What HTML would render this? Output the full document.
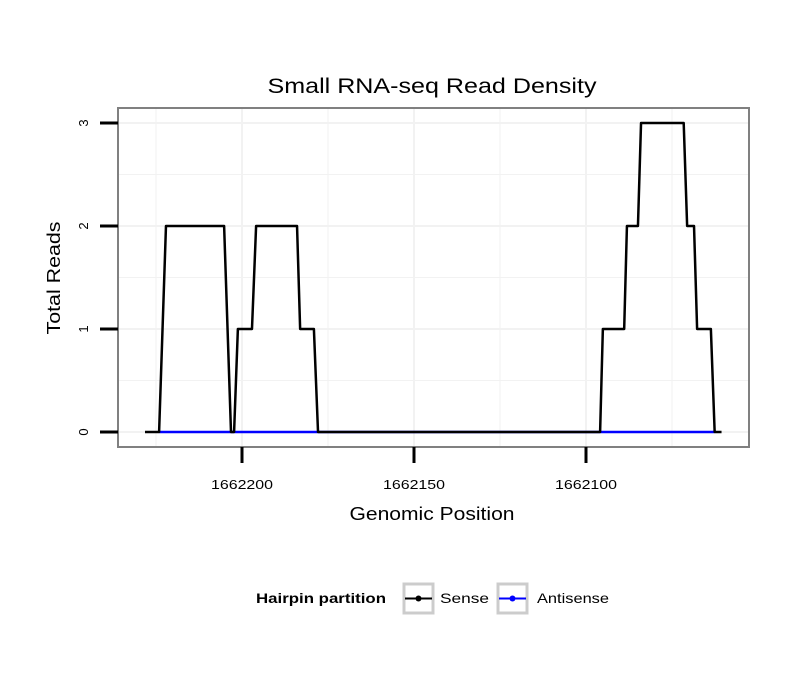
<!DOCTYPE html>
<html><head><meta charset="utf-8"><style>
body{margin:0;background:#fff;font-family:"Liberation Sans",sans-serif}
</style></head><body>
<svg width="810" height="690" xmlns="http://www.w3.org/2000/svg" font-family="Liberation Sans, sans-serif">
<rect x="0" y="0" width="810" height="690" fill="#fff"/>
<text x="432" y="93" font-size="21" text-anchor="middle" textLength="329" lengthAdjust="spacingAndGlyphs">Small RNA-seq Read Density</text>
<g id="grid"></g>
<g id="series"></g>
<rect x="118" y="108" width="631" height="339" fill="none" stroke="#808080" stroke-width="2"/>
<g id="axes"></g>
<text x="432" y="520" font-size="18" text-anchor="middle" textLength="165" lengthAdjust="spacingAndGlyphs">Genomic Position</text>
<text transform="translate(60,278) rotate(-90)" font-size="18" text-anchor="middle" textLength="113" lengthAdjust="spacingAndGlyphs">Total Reads</text>
<g>
<text x="256" y="603" font-size="14" font-weight="bold" textLength="130" lengthAdjust="spacingAndGlyphs">Hairpin partition</text>
<g>
<rect x="404" y="584" width="29" height="29" fill="#fff" stroke="#cccccc" stroke-width="3"/>
<line x1="405" y1="598.5" x2="432" y2="598.5" stroke="#000" stroke-width="2"/>
<circle cx="418.5" cy="598.5" r="3" fill="#000"/>
<text x="440" y="603" font-size="14" textLength="49" lengthAdjust="spacingAndGlyphs">Sense</text></g>
<g>
<rect x="498" y="584" width="29" height="29" fill="#fff" stroke="#cccccc" stroke-width="3"/>
<line x1="499" y1="598.5" x2="526" y2="598.5" stroke="#0000ff" stroke-width="2"/>
<circle cx="512.5" cy="598.5" r="3" fill="#0000ff"/>
<text x="537" y="603" font-size="14" textLength="72" lengthAdjust="spacingAndGlyphs">Antisense</text></g>
</g>
</svg>
<script>
const xTicks=[1662200,1662150,1662100];
const yTicks=[0,1,2,3];
const senseX=[1662228.2,1662224.1,1662222.1,1662205.2,1662203.2,1662202.3,1662201.2,1662197.1,1662195.9,1662184.0,1662183.1,1662179.1,1662177.9,1662095.9,1662095.1,1662088.9,1662088.1,1662084.9,1662084.0,1662071.6,1662070.6,1662068.6,1662067.7,1662063.7,1662062.6,1662060.6];
const senseY=[0,0,2,2,0,0,1,1,2,2,1,1,0,0,1,1,2,2,3,3,2,2,1,1,0,0];
const antiX=[1662224.1,1662062.6];
const antiY=[0,0];
const NS="http://www.w3.org/2000/svg";
const xs=v=>242+(1662200-v)*3.44;
const ys=v=>432-v*103;
function mk(t,a,p){const e=document.createElementNS(NS,t);for(const k in a)e.setAttribute(k,a[k]);document.getElementById(p).appendChild(e);return e;}
const grid=[];
xTicks.forEach(v=>grid.push(['v',xs(v)]));
[1662225,1662175,1662125,1662075].forEach(v=>grid.push(['vm',xs(v)]));
yTicks.forEach(v=>grid.push(['h',ys(v)]));
[0.5,1.5,2.5].forEach(v=>grid.push(['hm',ys(v)]));
grid.forEach(g=>{
 let e;
 if(g[0][0]=='v'){ if(g[1]<118||g[1]>749)return; e=mk('line',{x1:g[1],x2:g[1],y1:108,y2:447,stroke:'#f2f2f2','stroke-width':g[0]=='v'?2:1},'grid');}
 else e=mk('line',{x1:118,x2:749,y1:g[1],y2:g[1],stroke:'#f2f2f2','stroke-width':g[0]=='h'?2:1},'grid');
 
 
});
const ap=antiX.map((v,i)=>xs(v)+','+ys(antiY[i])).join(' ');
const a=mk('polyline',{points:ap,fill:'none',stroke:'#0000ff','stroke-width':2.5},'series');


const sp=senseX.map((v,i)=>xs(v)+','+ys(senseY[i])).join(' ');
const s=mk('polyline',{points:sp,fill:'none',stroke:'#000','stroke-width':2.5,'stroke-linejoin':'round'},'series');


xTicks.forEach(v=>{
 const t=mk('line',{x1:xs(v),x2:xs(v),y1:447,y2:463,stroke:'#000','stroke-width':3},'axes');
 
 
 const l=mk('text',{x:xs(v),y:489,'font-size':13,'text-anchor':'middle',textLength:62,lengthAdjust:'spacingAndGlyphs'},'axes');
 l.textContent=v;
 
 
});
yTicks.forEach(v=>{
 const t=mk('line',{x1:100,x2:118,y1:ys(v),y2:ys(v),stroke:'#000','stroke-width':3},'axes');
 
 
 const l=mk('text',{transform:`translate(88,${ys(v)}) rotate(-90)`,'font-size':13,'text-anchor':'middle'},'axes');
 l.textContent=v;
 
 
});
</script>
</body></html>
